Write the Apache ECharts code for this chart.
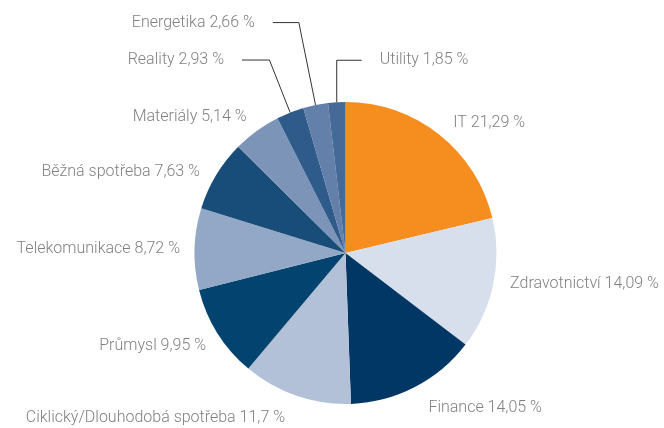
<!DOCTYPE html>
<html>
<head>
<meta charset="utf-8">
<script src="https://cdn.jsdelivr.net/npm/echarts@6/dist/echarts.min.js"></script>
<style>
  html, body { margin: 0; padding: 0; background: #fff; }
  #chart { width: 664px; height: 428px; }
</style>
</head>
<body>
<div id="chart"></div>
<script>
// sektory a jejich podil v %
const sektory = ['IT', 'Zdravotnictví', 'Finance', 'Ciklický/Dlouhodobá spotřeba', 'Průmysl',
  'Telekomunikace', 'Běžná spotřeba', 'Materiály', 'Reality', 'Energetika', 'Utility'];
const podily = [21.29, 14.09, 14.05, 11.7, 9.95, 8.72, 7.63, 5.14, 2.93, 2.66, 1.85];
const barvy = ['#f58d1f', '#d7dfec', '#003764', '#b3c1d8', '#02446f',
  '#93a8c6', '#184c79', '#7b94b8', '#2e5b8a', '#6380aa', '#456a98'];

// delka vodicich car popisku [length, length2, zobrazit]
const cary = [
  [14.6, -12.9, false], [0.4, -1.5, false], [23.5, -15.3, false], [23.5, -14.3, false],
  [24.5, -27.3, false], [0, -3.4, false], [6.9, -7.8, false], [17.5, -18.2, false],
  [56.4, 27.5, true], [84.1, 26, true], [42, 25, true]
];

const chart = echarts.init(document.getElementById('chart'));

const data = sektory.map((name, i) => ({
  name,
  value: podily[i],
  itemStyle: { color: barvy[i] },
  labelLine: { show: cary[i][2], length: cary[i][0], length2: cary[i][1] }
}));

chart.setOption({
  animation: false,
  series: [{
    type: 'pie',
    center: [345.5, 253],
    radius: 151,
    startAngle: 90,
    clockwise: true,
    avoidLabelOverlap: false,
    data,
    label: {
      position: 'outside',
      distanceToLabelLine: 18,
      fontFamily: 'Roboto',
      fontWeight: 300,
      fontSize: 16,
      color: '#808080',
      formatter: (p) => p.name + ' ' + String(p.value).replace('.', ',') + ' %'
    },
    labelLine: {
      lineStyle: { color: '#333', width: 1 }
    },
    emphasis: { disabled: true },
    // Utility ma caru doprava nahoru
    labelLayout: (p) => {
      if (p.dataIndex !== sektory.length - 1) return {};
      let x0, y0;
      if (p.labelLinePoints && p.labelLinePoints.length) {
        x0 = p.labelLinePoints[0][0];
        y0 = p.labelLinePoints[0][1];
      } else {
        x0 = p.rect.x + p.rect.width / 2;
        y0 = p.rect.y;
      }
      const c = cary[sektory.length - 1];
      const top = y0 - c[0];
      const end = x0 + c[1];
      return {
        x: end + 18,
        y: top,
        align: 'left',
        verticalAlign: 'middle',
        labelLinePoints: [[x0, y0], [x0, top], [end, top]]
      };
    }
  }]
});
</script>
</body>
</html>
